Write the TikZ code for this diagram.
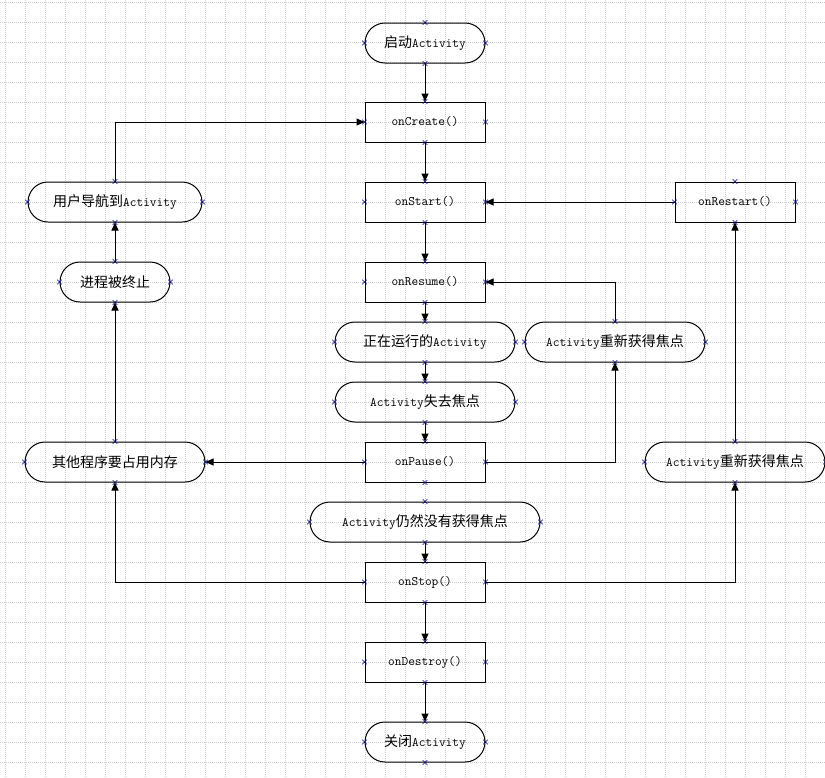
\documentclass[tikz,border=0pt]{standalone}
\usepackage{fontspec}
\setmainfont{Noto Sans CJK SC}
\usetikzlibrary{arrows.meta,shapes.misc}
\newcommand{\lat}[1]{{\fontsize{13pt}{15pt}\ttfamily #1}}
\tikzset{
  box/.style={draw,line width=1pt,rectangle,minimum width=120,minimum height=40,inner sep=0pt},
  term/.style={box,rounded corners=20pt},
  arr/.style={line width=1pt,-{Triangle[length=8pt,width=7pt]}},
  gridline/.style={gray!40,line width=0.8pt,dash pattern=on 1pt off 1pt},
  xmark/.style={cross out,draw=blue!50!black,line width=0.6pt,minimum size=4pt,inner sep=0pt}
}
\begin{document}
\begin{tikzpicture}[x=1pt,y=-1pt,font=\fontsize{14pt}{16pt}\selectfont]
\useasboundingbox (0,0) rectangle (825,777);
% background grid
\foreach \x in {5,25,...,825} \draw[gridline] (\x,0)--(\x,777);
\foreach \y in {2,22,...,777} \draw[gridline] (0,\y)--(825,\y);

% middle column
\node[term] (start) at (425,43) {启动\lat{Activity}};
\node[box] (create) at (425,122) {\lat{onCreate()}};
\node[box] (onstart) at (425,202) {\lat{onStart()}};
\node[box] (resume) at (425,282) {\lat{onResume()}};
\node[term,minimum width=180] (running) at (425,342) {正在运行的\lat{Activity}};
\node[term,minimum width=180] (lose) at (425,402) {\lat{Activity}失去焦点};
\node[box] (pause) at (425,462) {\lat{onPause()}};
\node[term,minimum width=230] (still) at (425,522) {\lat{Activity}仍然没有获得焦点};
\node[box] (stop) at (425,582) {\lat{onStop()}};
\node[box] (destroy) at (425,662) {\lat{onDestroy()}};
\node[term] (close) at (425,742) {关闭\lat{Activity}};

% left column
\node[term,minimum width=174] (nav) at (115,202) {用户导航到\lat{Activity}};
\node[term,minimum width=110] (killed) at (115,282) {进程被终止};
\node[term,minimum width=180] (mem) at (115,462) {其他程序要占用内存};

% right column
\node[box] (restart) at (735,202) {\lat{onRestart()}};
\node[term,minimum width=180] (regainA) at (615,342) {\lat{Activity}重新获得焦点};
\node[term,minimum width=180] (regainB) at (735,462) {\lat{Activity}重新获得焦点};

\draw[arr] (start)--(create);
\draw[arr] (create)--(onstart);
\draw[arr] (onstart)--(resume);
\draw[arr] (resume)--(running);
\draw[arr] (running)--(lose);
\draw[arr] (lose)--(pause);
\draw[arr] (pause)--(mem);
\draw[arr] (pause.east)-|(regainA.south);
\draw[arr] (regainA.north)|-(resume.east);
\draw[arr] (still)--(stop);
\draw[arr] (stop.west)-|(mem.south);
\draw[arr] (stop.east)-|(regainB.south);
\draw[arr] (regainB)--(restart);
\draw[arr] (restart)--(onstart);
\draw[arr] (mem)--(killed);
\draw[arr] (killed)--(nav);
\draw[arr] (nav.north)|-(create.west);
\draw[arr] (stop)--(destroy);
\draw[arr] (destroy)--(close);

% connection points
\foreach \n in {start,create,onstart,resume,running,lose,pause,still,stop,destroy,close,nav,killed,mem,restart,regainA,regainB}
  \foreach \a in {north,south,east,west}
    \node[xmark] at (\n.\a) {};
\end{tikzpicture}
\end{document}
